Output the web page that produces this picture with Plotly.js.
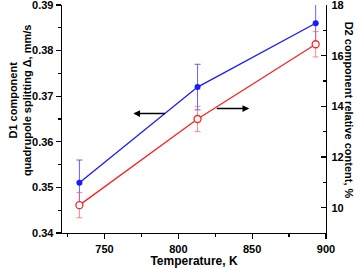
<!DOCTYPE html>
<html><head><meta charset="utf-8">
<script src="https://cdn.plot.ly/plotly-3.0.1.min.js"></script>
<style>html,body{margin:0;padding:0;background:#fff}#c{width:357px;height:268px}</style>
</head><body><div id="c"></div>
<script>
const temps = [733, 813, 893];
const quadSplit = [0.351, 0.372, 0.386];
const quadErr = [0.005, 0.005, 0.005];
const relContent = [10.1, 13.5, 16.45];
const relErr = [0.5, 0.5, 0.5];
const xTitle = 'Temperature, K';
const y1Title = 'D1 component<br>quadrupole splitting Δ, mm/s';
const y2Title = 'D2 component relative content, %';

const F = 'Liberation Sans, Arial, sans-serif';
const traces = [
  {x: temps, y: quadSplit, yaxis: 'y', mode: 'lines+markers', type: 'scatter',
   line: {color: '#1a1aff', width: 1.3},
   marker: {color: '#1a1aff', size: 6, symbol: 'circle'},
   error_y: {type: 'data', array: quadErr, visible: true, color: 'rgba(70,70,255,0.85)', thickness: 1, width: 3},
   cliponaxis: true},
  {x: temps, y: relContent, yaxis: 'y2', mode: 'lines+markers', type: 'scatter',
   line: {color: '#ff2020', width: 1.3},
   marker: {color: '#ffffff', size: 7, symbol: 'circle', line: {color: '#ff2020', width: 1.3}},
   error_y: {type: 'data', array: relErr, visible: true, color: 'rgba(255,90,90,0.7)', thickness: 1, width: 3}}
];
const axBase = {showline: true, linecolor: '#000', linewidth: 1.3, ticks: 'outside', ticklen: 5, tickwidth: 1.2,
  tickcolor: '#000', showgrid: false, zeroline: false, ticklabeloverflow: 'allow',
  tickfont: {family: F, size: 11, color: '#000', weight: 'bold'}};
const layout = {
  width: 357, height: 268, margin: {l: 62, r: 31, t: 5, b: 35},
  paper_bgcolor: '#fff', plot_bgcolor: '#fff', showlegend: false,
  font: {family: F},
  xaxis: Object.assign({}, axBase, {range: [721.2, 900], dtick: 50, tick0: 750,
    minor: {ticks: 'outside', ticklen: 3, dtick: 25, tick0: 725, tickcolor: '#000'},
    title: {text: xTitle, font: {family: F, size: 12, color: '#000', weight: 'bold'}, standoff: 4}}),
  yaxis: Object.assign({}, axBase, {range: [0.34, 0.39], dtick: 0.01, tick0: 0.34, tickformat: '.2f',
    minor: {ticks: 'outside', ticklen: 3, dtick: 0.005, tick0: 0.34, tickcolor: '#000'}}),
  yaxis2: Object.assign({}, axBase, {overlaying: 'y', side: 'right', range: [9, 18], dtick: 2, tick0: 10,
    ticks: 'inside', ticklabelstandoff: 2,
    minor: {ticks: 'inside', ticklen: 3, dtick: 1, tick0: 9, tickcolor: '#000'}}),
  annotations: [
    {xref: 'paper', yref: 'paper', x: -0.161, y: 0.585, text: y1Title, textangle: -90, showarrow: false,
     xanchor: 'center', yanchor: 'middle', font: {family: F, size: 11, color: '#000', weight: 'bold'}},
    {xref: 'paper', yref: 'paper', x: 1.088, y: 0.54, text: y2Title, textangle: 90, showarrow: false,
     xanchor: 'center', yanchor: 'middle', font: {family: F, size: 11, color: '#000', weight: 'bold'}},
    {xref: 'x', yref: 'y', axref: 'x', ayref: 'y', x: 769.5, y: 0.3662, ax: 792, ay: 0.3662, text: '',
     showarrow: true, arrowhead: 2, arrowsize: 0.9, arrowwidth: 1.5, arrowcolor: '#000'},
    {xref: 'x', yref: 'y', axref: 'x', ayref: 'y', x: 848, y: 0.3673, ax: 825, ay: 0.3673, text: '',
     showarrow: true, arrowhead: 2, arrowsize: 0.9, arrowwidth: 1.5, arrowcolor: '#000'}
  ]
};
Plotly.newPlot('c', traces, layout, {staticPlot: true, displayModeBar: false});
</script></body></html>
